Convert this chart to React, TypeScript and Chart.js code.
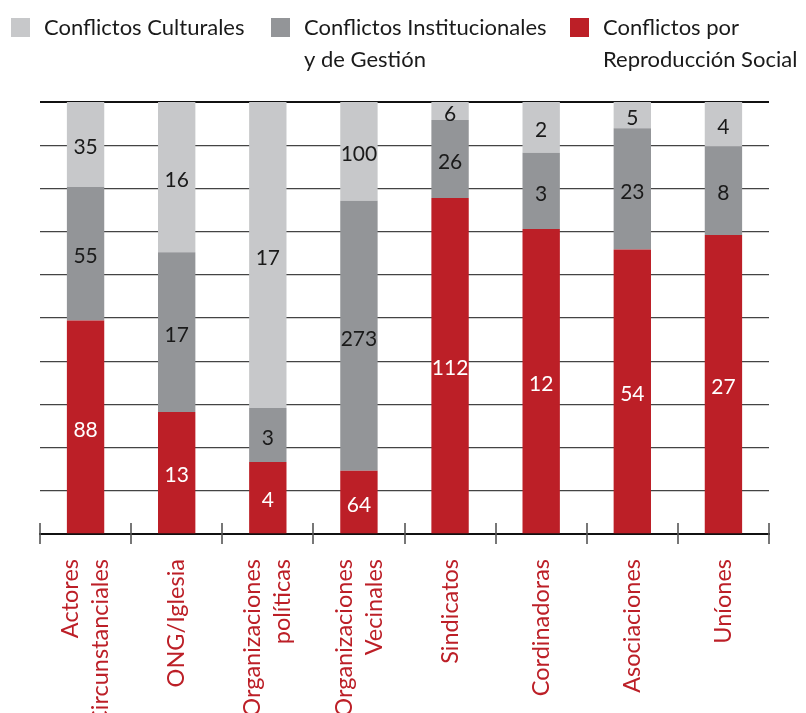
import React, { useEffect, useRef } from "react";
import { Chart, registerables } from "chart.js";

Chart.register(...registerables);

const categories: string[][] = [
  ["Actores", "Circunstanciales"],
  ["ONG/Iglesia"],
  ["Organizaciones", "políticas"],
  ["Organizaciones", "Vecinales"],
  ["Sindicatos"],
  ["Cordinadoras"],
  ["Asociaciones"],
  ["Uníones"],
];

const reproduccionSocial = [88, 13, 4, 64, 112, 12, 54, 27];
const institucionales = [55, 17, 3, 273, 26, 3, 23, 8];
const culturales = [35, 16, 17, 100, 6, 2, 5, 4];

const seriesNames = [
  ["Conflictos Culturales"],
  ["Conflictos Institucionales", "y de Gestión"],
  ["Conflictos por", "Reproducción Social"],
];

const RED = "#bc1f27";
const DARK = "#939598";
const LIGHT = "#c7c8ca";
const FONT = "Lato, 'Open Sans', sans-serif";

const totals = categories.map(
  (_, i) => reproduccionSocial[i] + institucionales[i] + culturales[i]
);
const pct = (arr: number[]) => arr.map((v, i) => (v / totals[i]) * 100);

export default function App() {
  const ref = useRef<HTMLCanvasElement | null>(null);

  useEffect(() => {
    if (!ref.current) return;

    const labelPlugin = {
      id: "segLabels",
      afterDatasetsDraw(chart: any) {
        const ctx = chart.ctx;
        ctx.save();
        ctx.font = `21px ${FONT}`;
        ctx.textAlign = "center";
        ctx.textBaseline = "middle";
        chart.data.datasets.forEach((ds: any, di: number) => {
          const meta = chart.getDatasetMeta(di);
          meta.data.forEach((el: any, i: number) => {
            const y = (el.y + el.base) / 2 + 3;
            ctx.fillStyle = ds.labelColor;
            ctx.fillText(String(ds.counts[i]), el.x, y);
          });
        });
        ctx.restore();
      },
    };

    const axisPlugin = {
      id: "xTicksAndLabels",
      afterDraw(chart: any) {
        const ctx = chart.ctx;
        const xs = chart.scales.x;
        const y = chart.chartArea.bottom;
        ctx.save();
        ctx.strokeStyle = "#555";
        ctx.lineWidth = 1.6;
        for (let i = 0; i <= categories.length; i++) {
          const x = Math.round(xs.getPixelForValue(i - 0.5));
          ctx.beginPath();
          ctx.moveTo(x, y - 11);
          ctx.lineTo(x, y + 10);
          ctx.stroke();
        }
        ctx.font = `23.5px ${FONT}`;
        ctx.fillStyle = RED;
        ctx.textAlign = "right";
        ctx.textBaseline = "middle";
        categories.forEach((lines, i) => {
          const cx = xs.getPixelForValue(i);
          lines.forEach((t, li) => {
            const lx = cx + (li - (lines.length - 1) / 2) * 30;
            ctx.save();
            ctx.translate(lx, y + 25);
            ctx.rotate(-Math.PI / 2);
            ctx.fillText(t, 0, 0);
            ctx.restore();
          });
        });
        ctx.restore();
      },
    };

    const legendPlugin = {
      id: "customLegend",
      afterDraw(chart: any) {
        const ctx = chart.ctx;
        const items = [
          { x: 11, color: LIGHT, lines: seriesNames[0] },
          { x: 271, color: DARK, lines: seriesNames[1] },
          { x: 570, color: RED, lines: seriesNames[2] },
        ];
        ctx.save();
        ctx.font = `22px ${FONT}`;
        ctx.textBaseline = "middle";
        ctx.textAlign = "left";
        items.forEach((it) => {
          ctx.fillStyle = it.color;
          ctx.fillRect(it.x, 18, 19, 19);
          ctx.fillStyle = "#1a1a1a";
          it.lines.forEach((t, li) => {
            ctx.fillText(t, it.x + 33, 28 + li * 32);
          });
        });
        ctx.restore();
      },
    };

    const chart = new Chart(ref.current, {
      type: "bar",
      data: {
        labels: categories.map((c) => c.join(" ")),
        datasets: [
          {
            label: seriesNames[2].join(" "),
            data: pct(reproduccionSocial),
            backgroundColor: RED,
            counts: reproduccionSocial,
            labelColor: "#ffffff",
          } as any,
          {
            label: seriesNames[1].join(" "),
            data: pct(institucionales),
            backgroundColor: DARK,
            counts: institucionales,
            labelColor: "#1a1a1a",
          } as any,
          {
            label: seriesNames[0].join(" "),
            data: pct(culturales),
            backgroundColor: LIGHT,
            counts: culturales,
            labelColor: "#1a1a1a",
          } as any,
        ],
      },
      options: {
        animation: false,
        responsive: false,
        maintainAspectRatio: false,
        layout: { padding: { left: 40, right: 37, top: 102, bottom: 0 } },
        datasets: {
          bar: { categoryPercentage: 1, barPercentage: 0.41 },
        },
        plugins: {
          legend: { display: false },
          tooltip: { enabled: false },
        },
        scales: {
          x: {
            stacked: true,
            grid: { display: false },
            border: { display: true, color: "#111", width: 2 },
            ticks: { display: false },
            afterFit: (scale: any) => {
              scale.height = 179;
            },
          },
          y: {
            stacked: true,
            min: 0,
            max: 100,
            afterFit: (scale: any) => {
              scale.width = 0;
            },
            ticks: { display: false, stepSize: 10 },
            border: { display: false },
            grid: {
              drawTicks: false,
              color: (c: any) => (c.tick && c.tick.value === 100 ? "#111" : "#444"),
              lineWidth: (c: any) => (c.tick && c.tick.value === 100 ? 2 : 1.3),
            },
          },
        },
      },
      plugins: [labelPlugin, axisPlugin, legendPlugin],
    });

    return () => chart.destroy();
  }, []);

  return (
    <div style={{ position: "absolute", left: 0, top: 0, width: 806, height: 713, background: "#fff" }}>
      <canvas ref={ref} width={806} height={713} style={{ display: "block" }} />
    </div>
  );
}
